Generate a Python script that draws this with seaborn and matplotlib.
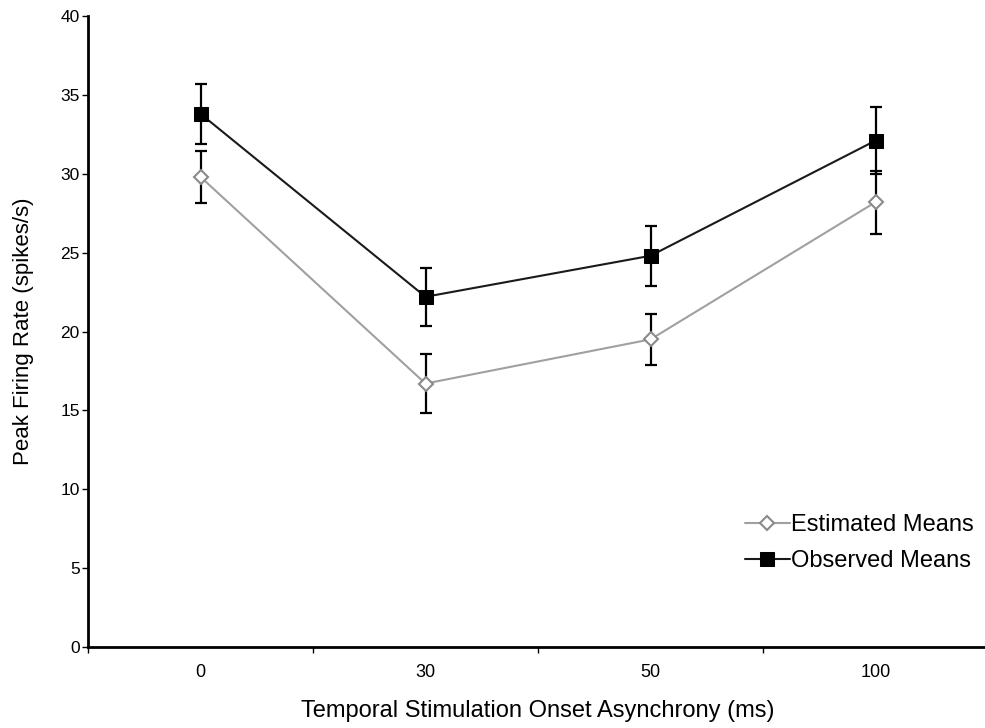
import matplotlib
matplotlib.use("Agg")
import matplotlib.pyplot as plt
import seaborn as sns
import pandas as pd
from matplotlib.ticker import FixedLocator

# Data
soa_labels = ["0", "30", "50", "100"]
observed_means = [33.8, 22.2, 24.8, 32.1]
observed_err = [1.9, 1.85, 1.9, 2.1]
estimated_means = [29.8, 16.7, 19.5, 28.2]
estimated_err = [1.65, 1.85, 1.6, 2.0]

sns.set_theme(style="white")
plt.rcParams["font.family"] = ["Liberation Sans", "DejaVu Sans"]
plt.rcParams["text.color"] = "black"
plt.rcParams["axes.labelcolor"] = "black"
plt.rcParams["xtick.color"] = "black"
plt.rcParams["ytick.color"] = "black"

fig = plt.figure(figsize=(9.85, 7.28), dpi=100)
ax = fig.add_axes([88 / 985, 1 - 647 / 728, 900 / 985, (647 - 16) / 728])

df = pd.DataFrame({
    "soa": soa_labels * 2,
    "rate": estimated_means + observed_means,
    "series": ["Estimated Means"] * 4 + ["Observed Means"] * 4,
})

est = df[df.series == "Estimated Means"]
obs = df[df.series == "Observed Means"]

# error bars first so the markers sit on top
ax.errorbar(soa_labels, estimated_means, yerr=estimated_err, fmt="none",
            ecolor="black", elinewidth=1.6, capsize=4.5, capthick=1.6, zorder=2)
ax.errorbar(soa_labels, observed_means, yerr=observed_err, fmt="none",
            ecolor="black", elinewidth=1.6, capsize=4.5, capthick=1.6, zorder=2)

sns.lineplot(data=est, x="soa", y="rate", ax=ax, color="#a0a0a0", lw=1.5,
             marker="D", markersize=7, markerfacecolor="white",
             markeredgecolor="#8a8a8a", markeredgewidth=1.5,
             label="Estimated Means", sort=False, zorder=3)
sns.lineplot(data=obs, x="soa", y="rate", ax=ax, color="#1a1a1a", lw=1.5,
             marker="s", markersize=10, markerfacecolor="black",
             markeredgecolor="black", label="Observed Means", sort=False,
             zorder=4)

ax.set_xlim(-0.5, 3.5)
ax.set_ylim(0, 40)
ax.set_yticks(range(0, 41, 5))
ax.set_xticks(range(4))
ax.set_xticklabels(soa_labels)
ax.xaxis.set_minor_locator(FixedLocator([-0.5, 0.5, 1.5, 2.5, 3.5]))

for side in ("top", "right"):
    ax.spines[side].set_visible(False)
for side in ("left", "bottom"):
    ax.spines[side].set_linewidth(2)
    ax.spines[side].set_color("black")

ax.tick_params(axis="y", which="major", direction="out", length=4, width=1,
               labelsize=12.5, pad=2, left=True)
ax.tick_params(axis="x", which="major", length=0, labelsize=13, pad=12)
ax.tick_params(axis="x", which="minor", direction="out", length=4, width=1,
               bottom=True)

ax.set_xlabel("Temporal Stimulation Onset Asynchrony (ms)", fontsize=17,
              labelpad=14)
ax.set_ylabel("Peak Firing Rate (spikes/s)", fontsize=16, labelpad=19)

leg = ax.legend(loc="upper left", bbox_to_anchor=(745 / 985, 1 - 514 / 728),
                bbox_transform=fig.transFigure, frameon=False, fontsize=17,
                handlelength=1.9, handletextpad=0.05, labelspacing=0.6,
                borderpad=0, borderaxespad=0)

fig.savefig("out.png", dpi=100)
